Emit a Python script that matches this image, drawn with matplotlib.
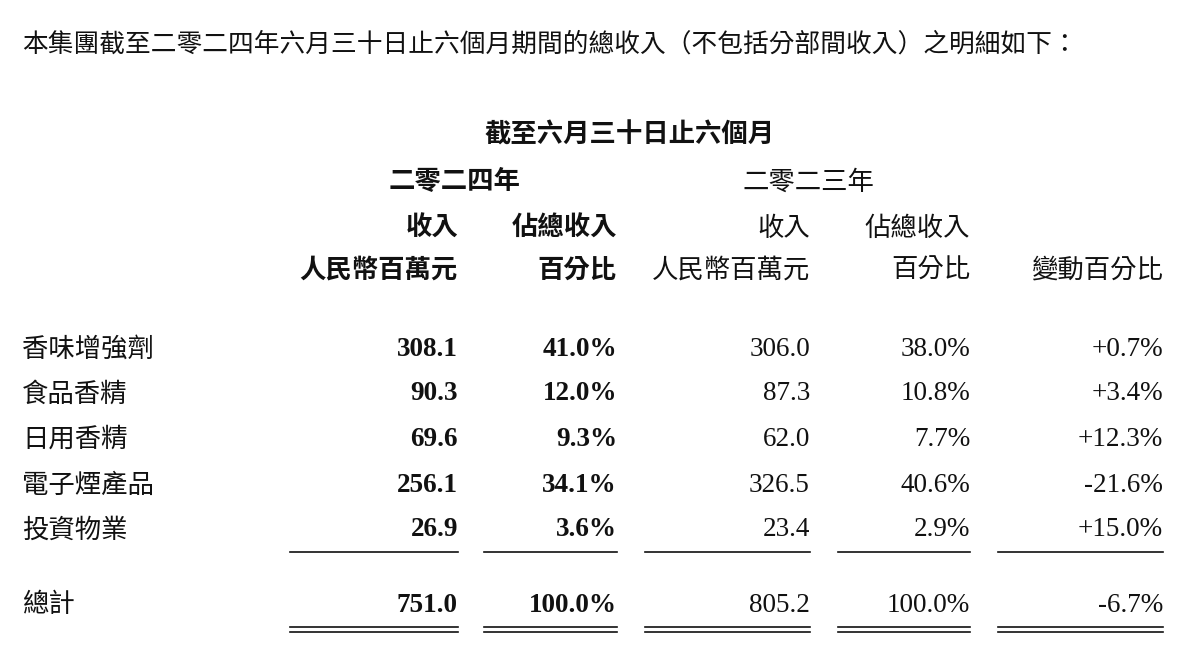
import matplotlib
matplotlib.use("Agg")
import matplotlib.pyplot as plt

categories = ["香味增強劑", "食品香精", "日用香精", "電子煙產品", "投資物業"]
rev_2024 = ["308.1", "90.3", "69.6", "256.1", "26.9"]
pct_2024 = ["41.0%", "12.0%", "9.3%", "34.1%", "3.6%"]
rev_2023 = ["306.0", "87.3", "62.0", "326.5", "23.4"]
pct_2023 = ["38.0%", "10.8%", "7.7%", "40.6%", "2.9%"]
change = ["+0.7%", "+3.4%", "+12.3%", "-21.6%", "+15.0%"]
total = ["751.0", "100.0%", "805.2", "100.0%", "-6.7%"]

CJK = ["Noto Sans CJK TC", "DejaVu Sans"]
NUM = ["Liberation Serif", "DejaVu Serif"]
FS = 19

fig = plt.figure(figsize=(12, 6.6), dpi=100)
ax = fig.add_axes([0, 0, 1, 1])
ax.set_xlim(0, 1200); ax.set_ylim(660, 0); ax.axis("off")

def t(x, y, s, ha="left", bold=False, fam=CJK, fs=FS):
    ax.text(x, y, s, ha=ha, va="center", fontsize=fs, family=fam,
            fontweight="bold" if bold else "normal", color="#111")

t(22, 45, "本集團截至二零二四年六月三十日止六個月期間的總收入（不包括分部間收入）之明細如下：", fs=18.5)
t(630, 135, "截至六月三十日止六個月", ha="center", bold=True)
t(455, 182, "二零二四年", ha="center", bold=True)
t(808, 182, "二零二三年", ha="center")

cols = [458, 617, 810, 970, 1163]
bolds = [True, True, False, False, False]
t(cols[0], 228, "收入", "right", True)
t(cols[1], 228, "佔總收入", "right", True)
t(cols[2], 228, "收入", "right")
t(cols[3], 228, "佔總收入", "right")
for x, s, b in zip(cols, ["人民幣百萬元", "百分比", "人民幣百萬元", "百分比", "變動百分比"], bolds):
    t(x, 270, s, "right", b)

rows_y = [349, 394, 439, 485, 530]
for i, y in enumerate(rows_y):
    t(22, y, categories[i])
    for x, s, b in zip(cols, [rev_2024[i], pct_2024[i], rev_2023[i], pct_2023[i], change[i]], bolds):
        t(x, y, s, "right", b, NUM, 19.5)

t(22, 605, "總計")
for x, s, b in zip(cols, total, bolds):
    t(x, 605, s, "right", b, NUM, 19.5)

spans = [(290, 458), (484, 617), (645, 810), (838, 970), (998, 1163)]
for a, b in spans:
    ax.plot([a, b], [552, 552], color="#111", lw=1.2)
    ax.plot([a, b], [627, 627], color="#111", lw=1.2)
    ax.plot([a, b], [632, 632], color="#111", lw=1.2)

fig.savefig("out.png", dpi=100, facecolor="white")
